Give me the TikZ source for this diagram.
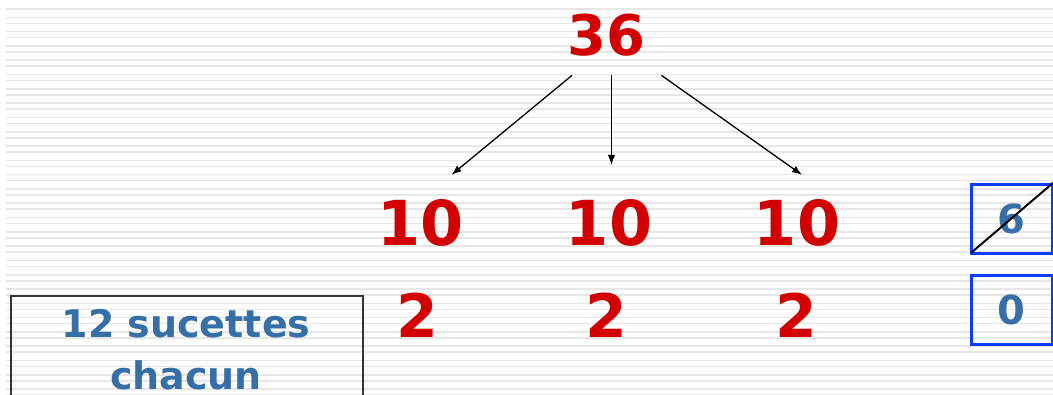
\documentclass[tikz,border=0pt]{standalone}
\usepackage{fontspec}
\setmainfont{DejaVu Sans}
\usetikzlibrary{positioning,arrows.meta}
\definecolor{numred}{RGB}{210,0,0}
\definecolor{txtblue}{RGB}{54,110,168}
\definecolor{boxblue}{RGB}{10,60,255}
\definecolor{rulegray}{RGB}{230,230,230}

\begin{document}
\begin{tikzpicture}
[x=1pt, y=-1pt,
 bgline/.style={draw=rulegray, line width=1.6pt},
 big/.style={inner sep=0pt, text=numred, font=\bfseries\fontsize{62}{68}\selectfont},
 small/.style={inner sep=0pt, text=numred, font=\bfseries\fontsize{60}{66}\selectfont},
 rest/.style={draw=boxblue, line width=3pt, minimum width=81pt, minimum height=69pt,
   inner sep=0pt, text=txtblue, font=\bfseries\fontsize{40}{44}\selectfont},
 split/.style={draw=black, line width=1.3pt, -{Latex[length=10pt,width=7.5pt]}}]
\useasboundingbox (0,0) rectangle (1053,394);
\clip (0,0) rectangle (1053,394);
\foreach \k in {0,...,27}
 {\draw[bgline] (6,{9+14.3*\k}) -- (1053,{9+14.3*\k});
  \draw[bgline] (6,{17.3+14.3*\k}) -- (1053,{17.3+14.3*\k});}

\node[inner sep=0pt, text=numred, font=\bfseries\fontsize{56}{60}\selectfont] (top) at (606.5,35) {36};
\node[big] (ten1) at (420.5,222.5) {10};
\node[big] (ten2) at (609,222.5) {10};
\node[big] (ten3) at (797,222.5) {10};
\node[small] (two1) at (417.5,315) {2};
\node[small] (two2) at (606,315) {2};
\node[small] (two3) at (796,315) {2};

\draw[split] ([shift={(-34.5,19)}]top.south) -- ([shift={(31,-24)}]ten1.north);
\draw[split] ([shift={(5,19)}]top.south) -- ([shift={(2.5,-34)}]ten2.north);
\draw[split] ([shift={(55,19)}]top.south) -- ([shift={(5,-24)}]ten3.north);

\node[rest] (six) at (1011.5,218.5) {6};
\node[rest] (zero) at (1011.5,309.5) {0};
\draw[line width=2pt] ([shift={(2,-2)}]six.south west) -- (six.north east);

\node[draw=black!80, line width=1.5pt, minimum width=352pt, minimum height=120pt,
  anchor=north west] (note) at (10,295) {};
\node[align=center, text=txtblue, font=\bfseries\fontsize{38}{52}\selectfont]
  (notetext) at (186,350) {12 sucettes\\chacun};
\end{tikzpicture}
\end{document}
